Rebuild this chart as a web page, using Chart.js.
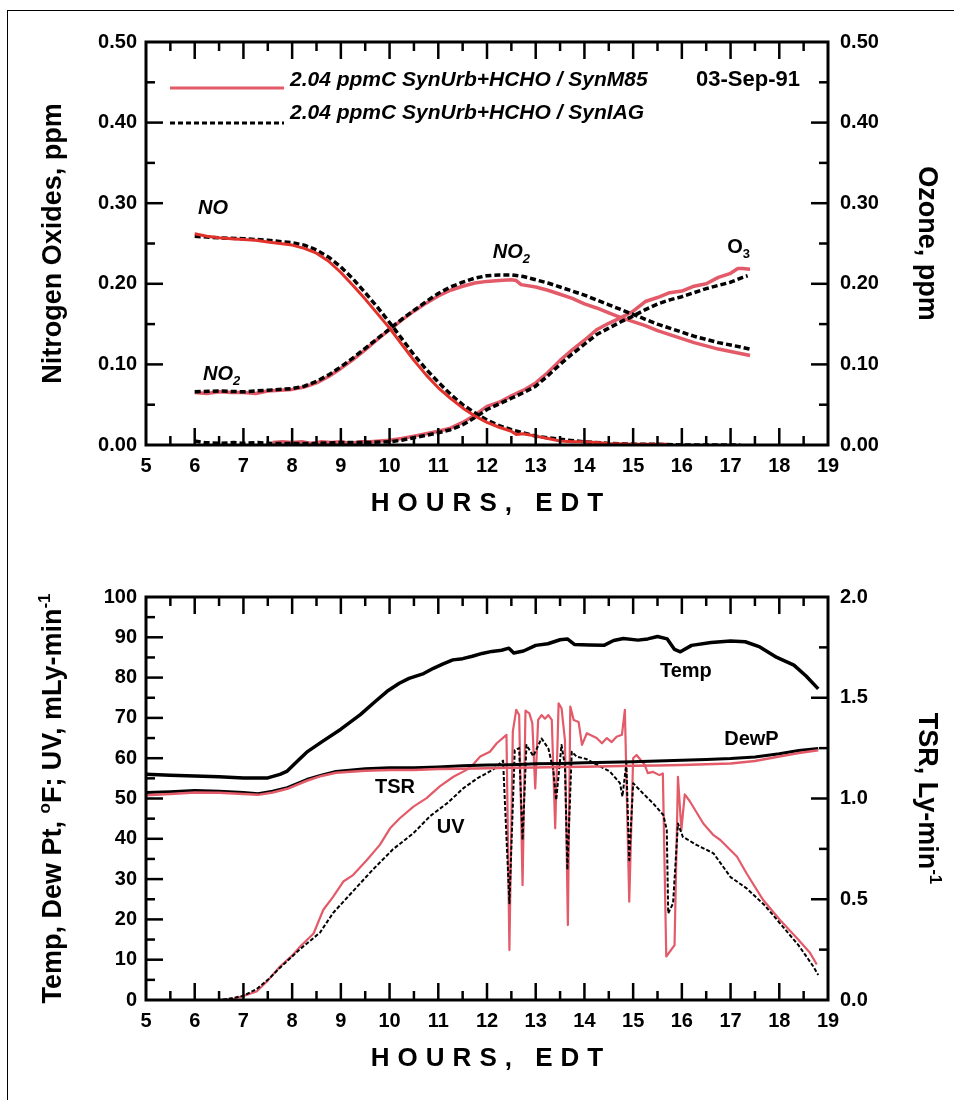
<!DOCTYPE html>
<html>
<head>
<meta charset="utf-8">
<script src="https://cdn.jsdelivr.net/npm/chart.js@4.4.1/dist/chart.umd.min.js"></script>
<style>
  body { margin: 0; background: #fff; }
  #page { position: relative; width: 954px; height: 1100px; overflow: hidden; }
  #frame { position: absolute; left: 7px; top: 10px; right: -5px; bottom: -5px;
           border-top: 1px solid #000; border-left: 1px solid #000; }
  canvas { position: absolute; left: 0; }
</style>
</head>
<body>
<div id="page">
  <div id="frame"></div>
  <canvas id="gas" width="954" height="540" style="top:0"></canvas>
  <canvas id="met" width="954" height="560" style="top:540px"></canvas>
</div>
<script>
// ---------- top panel: NO, NO2, O3 (ppm) vs hour ----------
var noHrsM85 = [6.0, 6.25, 6.5, 6.75, 7.0, 7.25, 7.5, 7.75, 8.0, 8.25, 8.5, 8.75, 9.0, 9.25, 9.5, 9.75, 10.0, 10.25, 10.5, 10.75, 11.0, 11.25, 11.5, 11.75, 12.0, 12.25, 12.5, 12.6, 12.75, 13.0, 13.25, 13.5, 13.75, 14.0, 14.25, 14.5, 15.0, 15.5, 15.7];
var noM85    = [0.262, 0.259, 0.257, 0.256, 0.255, 0.254, 0.252, 0.250, 0.248, 0.244, 0.238, 0.228, 0.214, 0.198, 0.181, 0.163, 0.145, 0.125, 0.105, 0.087, 0.071, 0.058, 0.046, 0.036, 0.028, 0.022, 0.017, 0.013, 0.014, 0.011, 0.008, 0.005, 0.004, 0.004, 0.003, 0.002, 0.001, 0.001, 0.001];

var noHrsIAG = [6.0, 6.5, 7.0, 7.5, 8.0, 8.25, 8.5, 8.75, 9.0, 9.25, 9.5, 9.75, 10.0, 10.25, 10.5, 10.75, 11.0, 11.25, 11.5, 11.75, 12.0, 12.25, 12.5, 12.75, 13.0, 13.5, 14.0, 14.5, 15.0, 15.5, 16.0, 16.5, 17.0, 17.2];
var noIAG    = [0.259, 0.257, 0.256, 0.254, 0.251, 0.248, 0.242, 0.233, 0.221, 0.206, 0.189, 0.171, 0.152, 0.132, 0.112, 0.094, 0.078, 0.063, 0.050, 0.040, 0.031, 0.024, 0.019, 0.015, 0.011, 0.007, 0.004, 0.002, 0.001, 0.001, 0.0, 0.0, 0.0, 0.0];

var no2HrsM85 = [6.0, 6.25, 6.5, 6.75, 7.0, 7.25, 7.5, 7.75, 8.0, 8.25, 8.5, 8.75, 9.0, 9.25, 9.5, 9.75, 10.0, 10.25, 10.5, 10.75, 11.0, 11.25, 11.5, 11.75, 12.0, 12.25, 12.5, 12.6, 12.7, 13.0, 13.25, 13.5, 13.75, 14.0, 14.25, 14.5, 14.75, 15.0, 15.25, 15.5, 15.75, 16.0, 16.25, 16.5, 16.75, 17.0, 17.25, 17.4];
var no2M85    = [0.065, 0.064, 0.066, 0.065, 0.065, 0.064, 0.067, 0.068, 0.069, 0.072, 0.077, 0.085, 0.095, 0.106, 0.118, 0.131, 0.143, 0.155, 0.166, 0.176, 0.185, 0.192, 0.197, 0.201, 0.203, 0.204, 0.205, 0.204, 0.199, 0.196, 0.192, 0.187, 0.182, 0.175, 0.170, 0.164, 0.158, 0.153, 0.148, 0.142, 0.137, 0.132, 0.127, 0.123, 0.119, 0.116, 0.113, 0.111];

var no2HrsIAG = [6.0, 6.5, 7.0, 7.5, 8.0, 8.25, 8.5, 8.75, 9.0, 9.25, 9.5, 9.75, 10.0, 10.25, 10.5, 10.75, 11.0, 11.25, 11.5, 11.75, 12.0, 12.25, 12.5, 12.75, 13.0, 13.25, 13.5, 13.75, 14.0, 14.25, 14.5, 14.75, 15.0, 15.25, 15.5, 15.75, 16.0, 16.25, 16.5, 16.75, 17.0, 17.25, 17.4];
var no2IAG    = [0.066, 0.067, 0.066, 0.068, 0.070, 0.073, 0.079, 0.087, 0.097, 0.108, 0.120, 0.132, 0.144, 0.156, 0.167, 0.178, 0.188, 0.196, 0.202, 0.207, 0.210, 0.211, 0.211, 0.209, 0.205, 0.201, 0.196, 0.191, 0.186, 0.180, 0.174, 0.168, 0.162, 0.156, 0.150, 0.145, 0.140, 0.135, 0.131, 0.127, 0.124, 0.121, 0.119];

var o3HrsM85 = [7.6, 7.8, 8.0, 8.2, 8.4, 8.6, 8.8, 9.0, 9.2, 9.4, 9.6, 9.8, 10.0, 10.25, 10.5, 10.75, 11.0, 11.25, 11.5, 11.75, 12.0, 12.25, 12.5, 12.75, 13.0, 13.25, 13.5, 13.75, 14.0, 14.25, 14.5, 14.75, 15.0, 15.25, 15.5, 15.75, 16.0, 16.25, 16.5, 16.75, 17.0, 17.15, 17.25, 17.4];
var o3M85    = [0.003, 0.004, 0.003, 0.004, 0.002, 0.004, 0.003, 0.004, 0.002, 0.004, 0.004, 0.005, 0.006, 0.008, 0.011, 0.014, 0.017, 0.021, 0.028, 0.037, 0.048, 0.053, 0.061, 0.068, 0.077, 0.090, 0.105, 0.118, 0.130, 0.143, 0.151, 0.158, 0.166, 0.178, 0.183, 0.189, 0.191, 0.197, 0.200, 0.208, 0.213, 0.219, 0.219, 0.218];

var o3HrsIAG = [6.0, 6.2, 6.5, 6.8, 7.0, 7.3, 7.6, 8.0, 8.5, 9.0, 9.5, 10.0, 10.25, 10.5, 10.75, 11.0, 11.25, 11.5, 11.75, 12.0, 12.25, 12.5, 12.75, 13.0, 13.25, 13.5, 13.75, 14.0, 14.25, 14.5, 14.75, 15.0, 15.25, 15.5, 15.75, 16.0, 16.25, 16.5, 16.75, 17.0, 17.25, 17.35];
var o3IAG    = [0.005, 0.003, 0.002, 0.003, 0.002, 0.003, 0.002, 0.002, 0.002, 0.003, 0.003, 0.004, 0.006, 0.009, 0.012, 0.015, 0.019, 0.025, 0.034, 0.044, 0.051, 0.058, 0.065, 0.073, 0.086, 0.100, 0.113, 0.125, 0.137, 0.145, 0.153, 0.160, 0.168, 0.175, 0.180, 0.184, 0.189, 0.194, 0.198, 0.202, 0.208, 0.210];

// ---------- bottom panel: Temp, DewP (F), UV (mLy/min), TSR (Ly/min) ----------
var tempHrs = [5.0, 5.5, 6.0, 6.5, 7.0, 7.5, 7.75, 7.9, 8.1, 8.3, 8.6, 9.0, 9.4, 9.7, 9.95, 10.2, 10.4, 10.7, 10.9, 11.1, 11.3, 11.5, 11.7, 11.9, 12.1, 12.3, 12.45, 12.55, 12.75, 13.0, 13.25, 13.5, 13.65, 13.8, 14.1, 14.4, 14.6, 14.8, 15.1, 15.3, 15.5, 15.7, 15.85, 15.97, 16.2, 16.6, 17.0, 17.3, 17.6, 17.95, 18.3, 18.55, 18.8];
var temp    = [56.0, 55.8, 55.6, 55.4, 55.1, 55.1, 56.0, 56.8, 59.2, 61.5, 64.0, 67.2, 70.8, 74.0, 76.6, 78.6, 79.8, 81.0, 82.3, 83.4, 84.4, 84.7, 85.3, 86.0, 86.5, 86.8, 87.3, 86.1, 86.6, 88.0, 88.4, 89.4, 89.6, 88.2, 88.1, 88.0, 89.2, 89.7, 89.3, 89.6, 90.2, 89.6, 87.0, 86.4, 88.0, 88.7, 89.1, 88.9, 87.6, 85.0, 83.1, 80.4, 77.2];

var dewHrs  = [5.0, 5.5, 6.0, 6.5, 7.0, 7.3, 7.6, 7.9, 8.3, 8.6, 8.9, 9.5, 10.0, 10.5, 11.0, 11.5, 12.0, 12.5, 13.0, 13.5, 14.0, 14.5, 15.0, 15.5, 16.0, 16.5, 17.0, 17.5, 18.0, 18.4, 18.8];
var dewP    = [51.5, 51.7, 52.0, 51.8, 51.5, 51.2, 51.8, 52.7, 54.7, 55.8, 56.7, 57.4, 57.6, 57.6, 57.8, 58.1, 58.3, 58.4, 58.6, 58.7, 58.9, 59.0, 59.1, 59.3, 59.5, 59.7, 59.9, 60.3, 61.1, 61.9, 62.4];
var dewP2   = [50.8, 51.1, 51.5, 51.4, 51.1, 50.9, 51.5, 52.4, 54.4, 55.6, 56.4, 56.9, 57.1, 57.1, 57.3, 57.4, 57.5, 57.6, 57.7, 57.8, 57.9, 58.0, 58.1, 58.2, 58.3, 58.5, 58.7, 59.3, 60.4, 61.3, 62.0];

var tsrHrs = [6.6, 6.8, 7.0, 7.27, 7.5, 7.75, 8.0, 8.16, 8.44, 8.64, 8.84, 9.05, 9.25, 9.53, 9.8, 10.01, 10.21, 10.49, 10.76, 11.03, 11.31, 11.58, 11.72, 11.86, 12.06, 12.2, 12.4, 12.46, 12.53, 12.6, 12.66, 12.73, 12.79, 12.87, 12.93, 12.99, 13.05, 13.12, 13.19, 13.26, 13.33, 13.4, 13.47, 13.53, 13.6, 13.66, 13.71, 13.78, 13.88, 13.95, 14.05, 14.25, 14.36, 14.46, 14.56, 14.66, 14.77, 14.83, 14.92, 15.0, 15.07, 15.24, 15.3, 15.41, 15.54, 15.61, 15.68, 15.85, 15.92, 15.99, 16.06, 16.17, 16.44, 16.65, 16.79, 17.13, 17.33, 17.67, 18.01, 18.36, 18.63, 18.77];
var tsr    = [0.000, 0.006, 0.020, 0.042, 0.096, 0.166, 0.220, 0.264, 0.330, 0.448, 0.512, 0.588, 0.620, 0.694, 0.770, 0.852, 0.902, 0.960, 1.002, 1.060, 1.108, 1.142, 1.170, 1.208, 1.232, 1.274, 1.316, 0.248, 1.332, 1.440, 1.414, 0.570, 1.436, 1.422, 1.374, 1.050, 1.390, 1.414, 1.396, 1.414, 1.390, 0.852, 1.472, 1.448, 1.290, 0.372, 1.456, 1.390, 1.380, 1.266, 1.324, 1.300, 1.274, 1.300, 1.280, 1.306, 1.316, 1.440, 0.488, 1.200, 1.216, 1.166, 1.126, 1.132, 1.116, 1.124, 0.216, 0.272, 1.108, 0.844, 1.020, 0.984, 0.876, 0.818, 0.794, 0.712, 0.628, 0.496, 0.398, 0.308, 0.234, 0.176];

var uvHrs = [5.1, 5.5, 6.0, 6.5, 6.7, 6.99, 7.27, 7.5, 7.75, 8.16, 8.57, 8.84, 9.25, 9.66, 10.07, 10.49, 10.83, 11.2, 11.51, 11.8, 12.13, 12.33, 12.46, 12.57, 12.66, 12.73, 12.81, 12.95, 13.12, 13.26, 13.36, 13.42, 13.53, 13.6, 13.65, 13.74, 13.84, 14.04, 14.25, 14.52, 14.73, 14.78, 14.86, 14.92, 15.0, 15.2, 15.41, 15.62, 15.69, 15.72, 15.82, 15.92, 16.02, 16.3, 16.65, 17.0, 17.33, 17.7, 18.01, 18.4, 18.7, 18.8];
var uv    = [0, 0, 0, 0, 0.3, 1.0, 2.7, 5.0, 8.0, 12.6, 16.7, 21.6, 27.0, 32.4, 37.4, 41.4, 45.6, 49.0, 52.5, 55.0, 57.2, 59.4, 24.0, 62.0, 62.5, 39.7, 63.3, 60.5, 64.9, 62.4, 57.1, 49.6, 63.3, 58.0, 32.3, 61.6, 60.4, 59.8, 58.4, 56.7, 53.8, 50.5, 58.7, 34.7, 53.8, 51.3, 48.8, 45.9, 42.2, 21.5, 24.0, 43.8, 40.5, 38.5, 36.4, 30.5, 27.7, 23.5, 19.1, 13.5, 8.3, 6.2];

var hourTicks = [5, 19];

var FONT = '"Liberation Sans", Arial, Helvetica, sans-serif';
var RED = '#e2322c';
var PINK = '#e35a69';
var TICKFONT = { family: FONT, size: 20, weight: 'bold' };

function pts(hrs, vals) {
  return hrs.map(function (h, i) { return { x: h, y: vals[i] }; });
}

function fontOf(size, italic) {
  return (italic ? 'italic ' : '') + 'bold ' + size + 'px ' + FONT;
}

// text with sub/superscript pieces; parts: [{t, sup, sub}]
function drawRich(ctx, parts, x, y, size, opt) {
  opt = opt || {};
  var small = Math.round(size * 0.64);
  ctx.save();
  ctx.translate(x, y);
  ctx.rotate(opt.angle || 0);
  ctx.fillStyle = '#000';
  ctx.textAlign = 'left';
  ctx.textBaseline = 'alphabetic';
  var w = 0;
  parts.forEach(function (p) {
    ctx.font = fontOf(p.sup || p.sub ? small : size, opt.italic);
    w += ctx.measureText(p.t).width;
  });
  var cx = opt.center ? -w / 2 : 0;
  parts.forEach(function (p) {
    ctx.font = fontOf(p.sup || p.sub ? small : size, opt.italic);
    var dy = p.sup ? -size * 0.42 : (p.sub ? size * 0.24 : 0);
    ctx.fillText(p.t, cx, dy);
    cx += ctx.measureText(p.t).width;
  });
  ctx.restore();
}

function spaced(ctx, text, cx, y, size, gap) {
  ctx.save();
  ctx.font = fontOf(size);
  ctx.fillStyle = '#000';
  ctx.textAlign = 'left';
  ctx.textBaseline = 'alphabetic';
  var w = 0;
  for (var i = 0; i < text.length; i++) w += ctx.measureText(text[i]).width + (i ? gap : 0);
  var x = cx - w / 2;
  for (var j = 0; j < text.length; j++) {
    ctx.fillText(text[j], x, y);
    x += ctx.measureText(text[j]).width + gap;
  }
  ctx.restore();
}

function near(a, b) { return Math.abs(a - b) < 1e-6; }

// frame, inward ticks, titles, labels
function decor(cfg) {
  return {
    id: 'decor',
    afterDraw: function (chart) {
      var ctx = chart.ctx, ca = chart.chartArea, s = chart.scales;
      ctx.save();
      ctx.strokeStyle = '#000';
      ctx.lineCap = 'butt';

      ctx.lineWidth = 2.5;
      function mark(x1, y1, x2, y2) { ctx.beginPath(); ctx.moveTo(x1, y1); ctx.lineTo(x2, y2); ctx.stroke(); }
      var v, px, len;
      for (v = s.x.min; v <= s.x.max + 1e-9; v += 0.5) {
        if (near(v, s.x.min) || near(v, s.x.max)) continue;
        px = s.x.getPixelForValue(v);
        len = near(v, Math.round(v)) ? 17 : 9;
        mark(px, ca.top, px, ca.top + len);
        mark(px, ca.bottom, px, ca.bottom - len);
      }
      [['y', 1], ['y2', -1]].forEach(function (a) {
        var sc = s[a[0]], st = cfg[a[0] + 'Step'];
        var x0 = a[1] > 0 ? ca.left : ca.right;
        for (var k = 1; k < Math.round((sc.max - sc.min) / (st / 2)); k++) {
          var val = sc.min + k * st / 2;
          var py = sc.getPixelForValue(val);
          var l = (k % 2 === 0) ? 17 : 9;
          mark(x0, py, x0 + a[1] * l, py);
        }
      });

      ctx.lineWidth = 3;
      ctx.strokeRect(ca.left, ca.top, ca.right - ca.left, ca.bottom - ca.top);
      ctx.restore();

      var midY = (ca.top + ca.bottom) / 2;
      drawRich(ctx, cfg.leftTitle, 61, midY, 27, { angle: -Math.PI / 2, center: true });
      drawRich(ctx, cfg.rightTitle, 919, midY, 27, { angle: Math.PI / 2, center: true });
      spaced(ctx, 'HOURS, EDT', (ca.left + ca.right) / 2, ca.bottom + 66, 26, 8);

      cfg.labels.forEach(function (lb) {
        var x = s.x.getPixelForValue(lb.x);
        var y = s[lb.axis || 'y'].getPixelForValue(lb.y) + 7;
        drawRich(ctx, lb.parts, x, y, 20, { italic: lb.italic });
      });
      if (cfg.extra) cfg.extra(ctx, chart);
    }
  };
}

function baseScales(yMax, yStep, yFmt, y2Max, y2Step, y2Fmt, axisH) {
  function yAxis(pos, max, step, fmt, w, pad) {
    return {
      type: 'linear', position: pos, min: 0, max: max,
      grid: { display: false, drawTicks: false }, border: { display: false },
      ticks: { stepSize: step, font: TICKFONT, color: '#000', padding: pad, callback: fmt },
      afterFit: function (sc) { sc.width = w; }
    };
  }
  return {
    x: {
      type: 'linear', min: hourTicks[0], max: hourTicks[1],
      grid: { display: false, drawTicks: false }, border: { display: false },
      ticks: { stepSize: 1, font: TICKFONT, color: '#000', padding: 9, maxRotation: 0, autoSkip: false },
      afterFit: function (sc) { sc.height = axisH; }
    },
    y: yAxis('left', yMax, yStep, yFmt, 146, 9),
    y2: yAxis('right', y2Max, y2Step, y2Fmt, 126, 12)
  };
}

var common = {
  responsive: false, animation: false, devicePixelRatio: 1,
  plugins: { legend: { display: false }, tooltip: { enabled: false } },
  elements: { point: { radius: 0 }, line: { tension: 0, borderJoinStyle: 'round' } }
};

// ---- top chart ----
new Chart(document.getElementById('gas'), {
  type: 'line',
  data: {
    datasets: [
      { data: pts(noHrsM85, noM85), borderColor: RED, borderWidth: 3, yAxisID: 'y', order: 0 },
      { data: pts(noHrsIAG, noIAG), borderColor: '#000', borderWidth: 3.5, borderDash: [6, 3], yAxisID: 'y', order: 1 },
      { data: pts(no2HrsIAG, no2IAG), borderColor: '#000', borderWidth: 3.5, borderDash: [6, 3], yAxisID: 'y', order: 1 },
      { data: pts(o3HrsIAG, o3IAG), borderColor: '#000', borderWidth: 3.5, borderDash: [6, 3], yAxisID: 'y2', order: 1 },
      { data: pts(no2HrsM85, no2M85), borderColor: PINK, borderWidth: 3.5, yAxisID: 'y', order: 2 },
      { data: pts(o3HrsM85, o3M85), borderColor: PINK, borderWidth: 3.5, yAxisID: 'y2', order: 2 }
    ]
  },
  options: Object.assign({}, common, {
    layout: { padding: { top: 42, left: 0, right: 0, bottom: 0 } },
    scales: baseScales(0.5, 0.1, function (v) { return v.toFixed(2); },
                       0.5, 0.1, function (v) { return v.toFixed(2); }, 95)
  }),
  plugins: [decor({
    yStep: 0.1, y2Step: 0.1,
    leftTitle: [{ t: 'Nitrogen Oxides, ppm' }],
    rightTitle: [{ t: 'Ozone, ppm' }],
    labels: [
      { x: 6.07, y: 0.295, parts: [{ t: 'NO' }], italic: true },
      { x: 6.17, y: 0.089, parts: [{ t: 'NO' }, { t: '2', sub: true }], italic: true },
      { x: 12.12, y: 0.241, parts: [{ t: 'NO' }, { t: '2', sub: true }], italic: true },
      { x: 16.93, y: 0.247, axis: 'y2', parts: [{ t: 'O' }, { t: '3', sub: true }] }
    ],
    extra: function (ctx) {
      ctx.save();
      ctx.lineWidth = 3;
      ctx.strokeStyle = PINK;
      ctx.beginPath(); ctx.moveTo(170, 88); ctx.lineTo(284, 88); ctx.stroke();
      ctx.strokeStyle = '#000';
      ctx.setLineDash([5, 3]);
      ctx.beginPath(); ctx.moveTo(170, 123); ctx.lineTo(284, 123); ctx.stroke();
      ctx.restore();
      drawRich(ctx, [{ t: '2.04 ppmC SynUrb+HCHO / SynM85' }], 290, 86, 21, { italic: true });
      drawRich(ctx, [{ t: '2.04 ppmC SynUrb+HCHO / SynIAG' }], 290, 119, 21, { italic: true });
      ctx.save();
      ctx.font = fontOf(22);
      ctx.textAlign = 'right';
      ctx.fillStyle = '#000';
      ctx.fillText('03-Sep-91', 800, 86);
      ctx.restore();
    }
  })]
});

// ---- bottom chart ----
new Chart(document.getElementById('met'), {
  type: 'line',
  data: {
    datasets: [
      { data: pts(tempHrs, temp), borderColor: '#000', borderWidth: 3.5, yAxisID: 'y', order: 0 },
      { data: pts(dewHrs, dewP2), borderColor: PINK, borderWidth: 2.5, yAxisID: 'y', order: 1 },
      { data: pts(dewHrs, dewP), borderColor: '#000', borderWidth: 3, yAxisID: 'y', order: 2 },
      { data: pts(uvHrs, uv), borderColor: '#000', borderWidth: 2, borderDash: [4, 2], yAxisID: 'y', order: 3 },
      { data: pts(tsrHrs, tsr), borderColor: PINK, borderWidth: 2.2, yAxisID: 'y2', order: 4 }
    ]
  },
  options: Object.assign({}, common, {
    layout: { padding: { top: 57, left: 0, right: 0, bottom: 0 } },
    scales: baseScales(100, 10, function (v) { return v; },
                       2.0, 0.5, function (v) { return v.toFixed(1); }, 100)
  }),
  plugins: [decor({
    yStep: 10, y2Step: 0.5,
    leftTitle: [{ t: 'Temp, Dew Pt, ' }, { t: 'o', sup: true }, { t: 'F; UV, mLy-min' }, { t: '-1', sup: true }],
    rightTitle: [{ t: 'TSR, Ly-min' }, { t: '-1', sup: true }],
    labels: [
      { x: 15.55, y: 81.9, parts: [{ t: 'Temp' }] },
      { x: 16.87, y: 65.0, parts: [{ t: 'DewP' }] },
      { x: 9.70, y: 53.1, parts: [{ t: 'TSR' }] },
      { x: 10.97, y: 43.2, parts: [{ t: 'UV' }] }
    ]
  })]
});
</script>
</body>
</html>
